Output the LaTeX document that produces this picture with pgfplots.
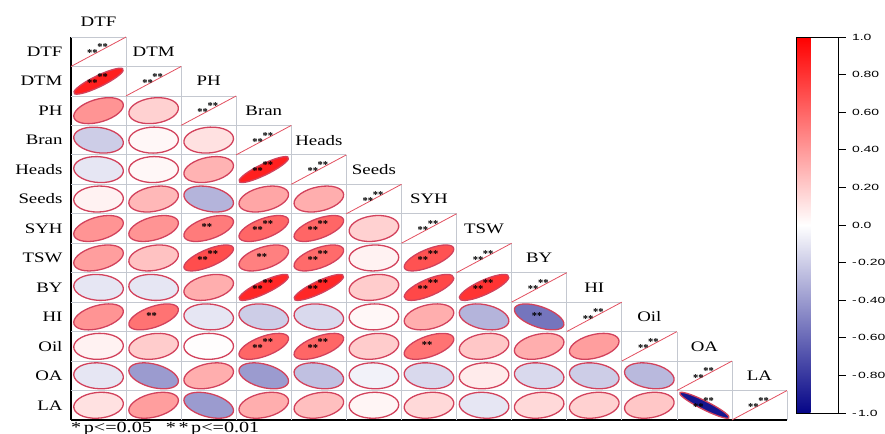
\documentclass[border=0pt]{standalone}
\usepackage{pgfplots}
\pgfplotsset{compat=1.18}
\usepackage{pgfplotstable}
\usepackage{fontspec}
\setmainfont{Liberation Serif}
\newfontfamily\labfont[FakeStretch=1.3]{Liberation Serif}
\newfontfamily\cbfont[FakeStretch=1.55]{Liberation Sans}
\newfontfamily\starfont{Liberation Serif}
\newcommand\sigmark{{\starfont\bfseries\fontsize{10.5bp}{11bp}\selectfont **}}

\definecolor{ellborder}{RGB}{210,66,92}
\definecolor{gridcol}{RGB}{196,200,208}
\definecolor{diagred}{RGB}{226,80,96}

\pgfdeclareplotmark{corrEll}{%
  \begingroup
  \pgfmathsetmacro\corrR{max(-0.999,min(0.999,\pgfplotspointmetatransformed/500-1))}%
  \pgfmathsetmacro\corrHd{acos(\corrR)/2}%
  \pgfmathsetmacro\corrA{24.8*cos(\corrHd)}%
  \pgfmathsetmacro\corrB{13*cos(\corrHd)}%
  \pgfmathsetmacro\corrC{-24.8*sin(\corrHd)}%
  \pgfmathsetmacro\corrD{13*sin(\corrHd)}%
  \pgftransformcm{\corrA}{\corrB}{\corrC}{\corrD}{\pgfpointorigin}%
  \pgfpathcircle{\pgfpointorigin}{1bp}%
  \pgfusepathqfillstroke
  \endgroup
}
\pgfdeclareplotmark{diagline}{%
  \pgfpathmoveto{\pgfqpoint{-27.5bp}{-14.7bp}}%
  \pgfpathlineto{\pgfqpoint{27.5bp}{14.7bp}}%
  \pgfusepathqstroke
}

% lower-triangle correlations: column c, row r, value v
\pgfplotstableread{
c r v
0 1 0.88
0 2 0.42
1 2 0.18
0 3 -0.2
1 3 0.03
2 3 0.12
0 4 -0.1
1 4 0.03
2 4 0.3
3 4 0.88
0 5 0.05
1 5 0.28
2 5 -0.3
3 5 0.35
4 5 0.32
0 6 0.42
1 6 0.42
2 6 0.52
3 6 0.6
4 6 0.6
5 6 0.18
0 7 0.38
1 7 0.24
2 7 0.7
3 7 0.5
4 7 0.58
5 7 0.05
6 7 0.68
0 8 -0.1
1 8 -0.1
2 8 0.32
3 8 0.85
4 8 0.85
5 8 0.2
6 8 0.72
7 8 0.8
0 9 0.42
1 9 0.55
2 9 -0.1
3 9 -0.2
4 9 -0.15
5 9 0.03
6 9 0.32
7 9 -0.3
8 9 -0.55
0 10 0.05
1 10 0.2
2 10 0.01
3 10 0.6
4 10 0.6
5 10 0.2
6 10 0.55
7 10 0.22
8 10 0.32
9 10 0.38
0 11 -0.1
1 11 -0.4
2 11 0.32
3 11 -0.4
4 11 -0.25
5 11 -0.05
6 11 -0.15
7 11 0.08
8 11 -0.15
9 11 -0.2
10 11 -0.28
0 12 0.12
1 12 0.38
2 12 -0.4
3 12 0.32
4 12 0.25
5 12 0.04
6 12 0.15
7 12 -0.1
8 12 0.15
9 12 0.18
10 12 0.22
11 12 -0.93
}\corrdata

% cells with the double significance mark
\pgfplotstableread{
c r
0 0
1 1
2 2
3 3
4 4
5 5
6 6
7 7
8 8
9 9
10 10
11 11
12 12
0 1
3 4
3 6
4 6
2 7
4 7
6 7
3 8
4 8
6 8
7 8
3 10
4 10
11 12
}\sigtwo

% cells with the single significance mark
\pgfplotstableread{
c r
2 6
3 7
1 9
8 9
6 10
}\sigone

\pgfplotstableread{
x y lab
0.5 13.5 DTF
1.5 12.5 DTM
2.5 11.5 PH
3.5 10.5 Bran
4.5 9.5 Heads
5.5 8.5 Seeds
6.5 7.5 SYH
7.5 6.5 TSW
8.5 5.5 BY
9.5 4.5 HI
10.5 3.5 Oil
11.5 2.5 OA
12.5 1.5 LA
}\collabs

\begin{document}
\begin{tikzpicture}
\useasboundingbox (0,0) rectangle (885bp,434bp);
\begin{axis}[
  at={(71bp,14bp)}, anchor=south west,
  width=716bp, height=383bp, scale only axis,
  xmin=0, xmax=13, ymin=0, ymax=13,
  axis x line=bottom, axis y line=left,
  axis line style={-, line width=1.4bp, black},
  xtick=\empty,
  ytick={0.5,1.5,2.5,3.5,4.5,5.5,6.5,7.5,8.5,9.5,10.5,11.5,12.5},
  yticklabels={LA,OA,Oil,HI,BY,TSW,SYH,Seeds,Heads,Bran,PH,DTM,DTF},
  major tick length=0pt,
  yticklabel style={font=\labfont\fontsize{14.5bp}{16bp}\selectfont, xshift=-5bp},
  clip=false,
  colormap={bwr}{rgb255=(5,5,135) rgb255=(255,255,255) rgb255=(255,0,0)},
  point meta min=-1, point meta max=1,
  colorbar,
  colorbar style={
    at={(parent axis.north east)}, anchor=north west, xshift=1bp,
    width=42bp, height=376bp, scale only axis,
    ytick={-1,-0.8,-0.6,-0.4,-0.2,0,0.2,0.4,0.6,0.8,1},
    yticklabels={-\kern1.5bp1.0,-\kern1.5bp0.80,-\kern1.5bp0.60,-\kern1.5bp0.40,-\kern1.5bp0.20,0.0,0.20,0.40,0.60,0.80,1.0},
    yticklabel style={font=\cbfont\fontsize{9bp}{10bp}\selectfont, xshift=3bp},
    ytick pos=right, yticklabel pos=right,
    tick align=outside, major tick length=7bp,
    tick style={black, line width=0.8bp},
    axis line style={black, line width=0.8bp},
  },
]
% cell grid
\addplot[gridcol, line width=0.7bp, mark=none, unbounded coords=jump] coordinates {
 (0,13) (1,13) (nan,nan)
 (0,12) (2,12) (nan,nan)
 (0,11) (3,11) (nan,nan)
 (0,10) (4,10) (nan,nan)
 (0,9) (5,9) (nan,nan)
 (0,8) (6,8) (nan,nan)
 (0,7) (7,7) (nan,nan)
 (0,6) (8,6) (nan,nan)
 (0,5) (9,5) (nan,nan)
 (0,4) (10,4) (nan,nan)
 (0,3) (11,3) (nan,nan)
 (0,2) (12,2) (nan,nan)
 (0,1) (13,1) (nan,nan)
 (1,0) (1,13) (nan,nan)
 (2,0) (2,12) (nan,nan)
 (3,0) (3,11) (nan,nan)
 (4,0) (4,10) (nan,nan)
 (5,0) (5,9) (nan,nan)
 (6,0) (6,8) (nan,nan)
 (7,0) (7,7) (nan,nan)
 (8,0) (8,6) (nan,nan)
 (9,0) (9,5) (nan,nan)
 (10,0) (10,4) (nan,nan)
 (11,0) (11,3) (nan,nan)
 (12,0) (12,2) (nan,nan)
 (13,0) (13,1)
};
% ellipses
\addplot[scatter, only marks, mark=corrEll,
  scatter/use mapped color={draw=ellborder, fill=mapped color},
  mark options={line width=1.3bp},
  point meta=explicit]
  table[x expr=\thisrow{c}+0.5, y expr=12.5-\thisrow{r}, meta=v] {\corrdata};
% diagonal cells
\addplot[only marks, mark=diagline, mark options={diagred, line width=0.8bp}] coordinates {
 (0.5,12.5) (1.5,11.5) (2.5,10.5) (3.5,9.5) (4.5,8.5) (5.5,7.5) (6.5,6.5)
 (7.5,5.5) (8.5,4.5) (9.5,3.5) (10.5,2.5) (11.5,1.5) (12.5,0.5)
};
% significance marks
\addplot[black, only marks, mark=text, text mark={\sigmark}]
  table[x expr=\thisrow{c}+0.5-0.11, y expr=12.5-\thisrow{r}-0.06] {\sigtwo};
\addplot[black, only marks, mark=text, text mark={\sigmark}]
  table[x expr=\thisrow{c}+0.5+0.075, y expr=12.5-\thisrow{r}+0.15] {\sigtwo};
\addplot[black, only marks, mark=text, text mark={\sigmark}]
  table[x expr=\thisrow{c}+0.5-0.035, y expr=12.5-\thisrow{r}+0.04] {\sigone};
% column labels
\addplot[draw=none, mark=none, nodes near coords, point meta=explicit symbolic,
  nodes near coords align={center},
  every node near coord/.append style={font=\labfont\fontsize{14.5bp}{16bp}\selectfont, text=black}]
  table[x=x, y=y, meta=lab] {\collabs};
% significance legend
\node[anchor=north west, inner sep=0pt, font=\labfont\fontsize{15.5bp}{16bp}\selectfont]
  at (rel axis cs:0,0) [yshift=-1.5bp] {*\,p<=0.05\hspace{14bp}*\,*\,p<=0.01};
\end{axis}
\end{tikzpicture}
\end{document}
